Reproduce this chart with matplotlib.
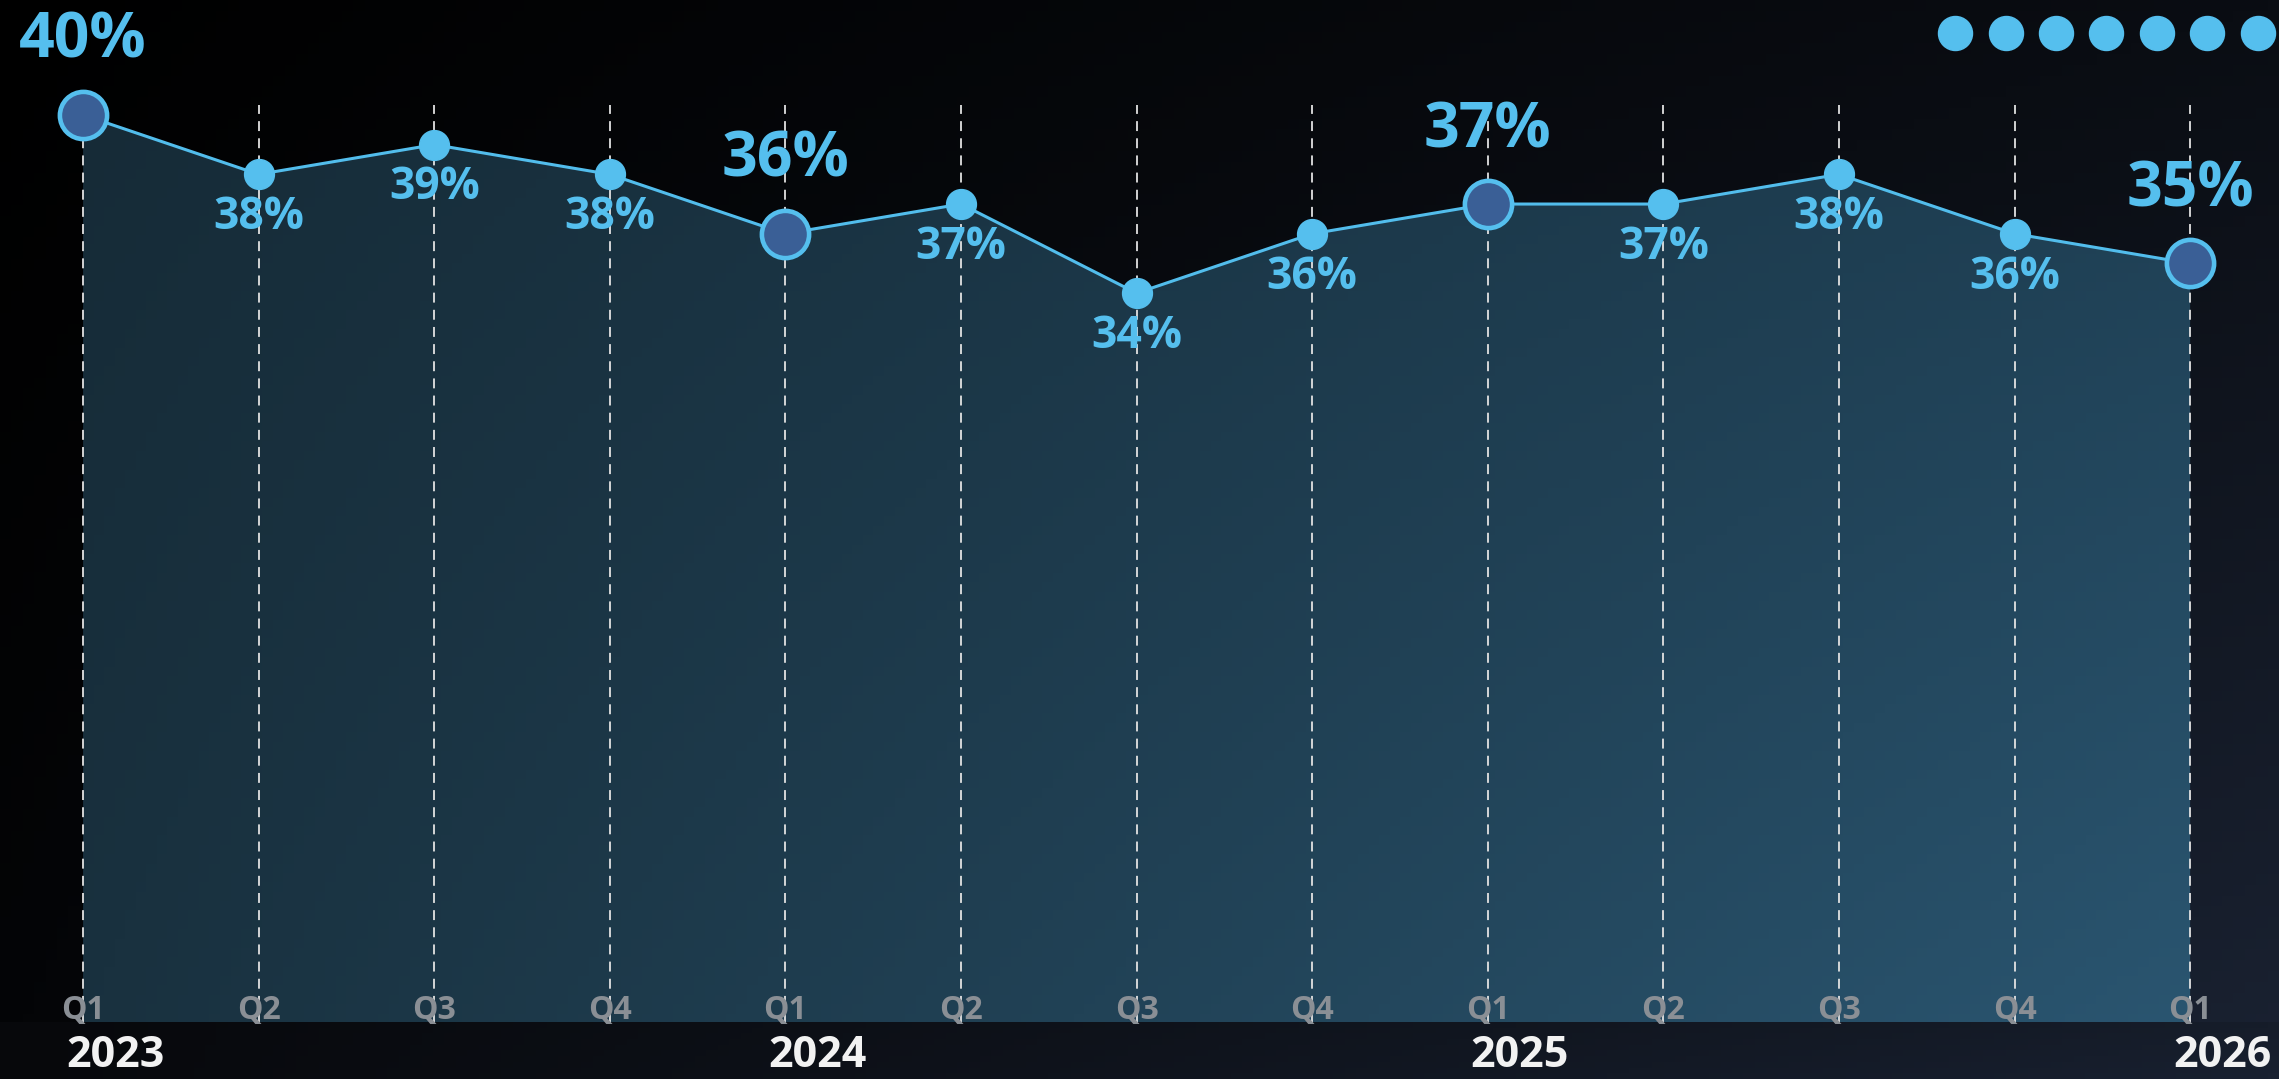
import numpy as np
import matplotlib
matplotlib.use("Agg")
import matplotlib.pyplot as plt
from matplotlib.colors import to_rgb

# data
quarters = ['Q1', 'Q2', 'Q3', 'Q4', 'Q1', 'Q2', 'Q3', 'Q4', 'Q1', 'Q2', 'Q3', 'Q4', 'Q1']
values = [40, 38, 39, 38, 36, 37, 34, 36, 37, 37, 38, 36, 35]
years = ['2023', '2024', '2025', '2026']
year_idx = [0, 4, 8, 12]
n_dots = 7

LINE = '#52bdec'
BIG_FACE = '#3a5f96'
LABEL = '#55bfee'
FONT = ['Open Sans', 'DejaVu Sans']

W, H = 2279, 1079
fig = plt.figure(figsize=(W / 100, H / 100), dpi=100)
ax = fig.add_axes([0, 0, 1, 1])
x0, x1 = -0.473, 12.506
y0, y1 = 7.54, 43.87
base = 9.43
ax.set_xlim(x0, x1)
ax.set_ylim(y0, y1)
ax.axis('off')


def grad(tl, tr, bl, br, nx=200, ny=100):
    gx = np.linspace(0, 1, nx)[None, :, None]
    gy = np.linspace(0, 1, ny)[:, None, None]
    tl, tr, bl, br = [np.array(to_rgb(c))[None, None, :] for c in (tl, tr, bl, br)]
    return tl * (1 - gx) * (1 - gy) + tr * gx * (1 - gy) + bl * (1 - gx) * gy + br * gx * gy


# background
bg = grad('#000000', '#0a0d13', '#040507', '#1a2232')
ax.imshow(bg, extent=[x0, x1, y0, y1], aspect='auto', zorder=0)

# area fill with gradient
x = np.arange(len(values))
poly = ax.fill_between(x, values, base, facecolor='none', edgecolor='none')
fill_img = grad('#162b37', '#1e3e52', '#19313f', '#2a5570')
im = ax.imshow(fill_img, extent=[x[0], x[-1], base, 41], aspect='auto', zorder=1)
im.set_clip_path(poly.get_paths()[0], transform=ax.transData)

# bottom band
band = grad('#07080b', '#161d2a', '#07080b', '#182030', ny=10)
ax.imshow(band, extent=[x0, x1, y0, base], aspect='auto', zorder=2)

# dashed guides
ax.vlines(x, base, 40.34, colors='#e2e2e2', linewidth=1.3,
          linestyles=(0, (5.5, 4)), zorder=3)

# line + markers
ax.plot(x, values, color=LINE, linewidth=2.2, zorder=4)
small = [i for i in x if i not in year_idx]
ax.plot(small, [values[i] for i in small], 'o', color='#55bfee', markersize=21.5, zorder=5)
ax.plot(year_idx, [values[i] for i in year_idx], 'o', markerfacecolor=BIG_FACE,
        markeredgecolor='#55bfee', markeredgewidth=3.3, markersize=34, zorder=6)

# value labels
for i, v in enumerate(values):
    if i in year_idx:
        ax.annotate(f'{v}%', (i, v), xytext=(0, 41), textcoords='offset points',
                    ha='center', va='baseline', fontsize=45, fontweight='bold',
                    family=FONT, color=LABEL, zorder=7)
    else:
        ax.annotate(f'{v}%', (i, v), xytext=(0, -39.5), textcoords='offset points',
                    ha='center', va='baseline', fontsize=32, fontweight='bold',
                    family=FONT, color=LABEL, zorder=7)

# quarter and year labels
for i, q in enumerate(quarters):
    ax.text(i, 9.55, q, ha='center', va='baseline', fontsize=23, fontweight='bold',
            family=FONT, color='#8a8f95', zorder=7)
for i, yr in zip(year_idx, years):
    ax.text(i - 0.097, 7.955, yr, ha='left', va='baseline', fontsize=31, fontweight='bold',
            family=FONT, color='#f2f2f2', zorder=7)

# decorative dots top right
for k in range(n_dots):
    ax.plot(0.858 + 0.0221 * k, 0.969, 'o', color='#55bfee', markersize=24.5,
            transform=ax.transAxes, clip_on=False, zorder=7)

fig.savefig('out.png', dpi=100)
